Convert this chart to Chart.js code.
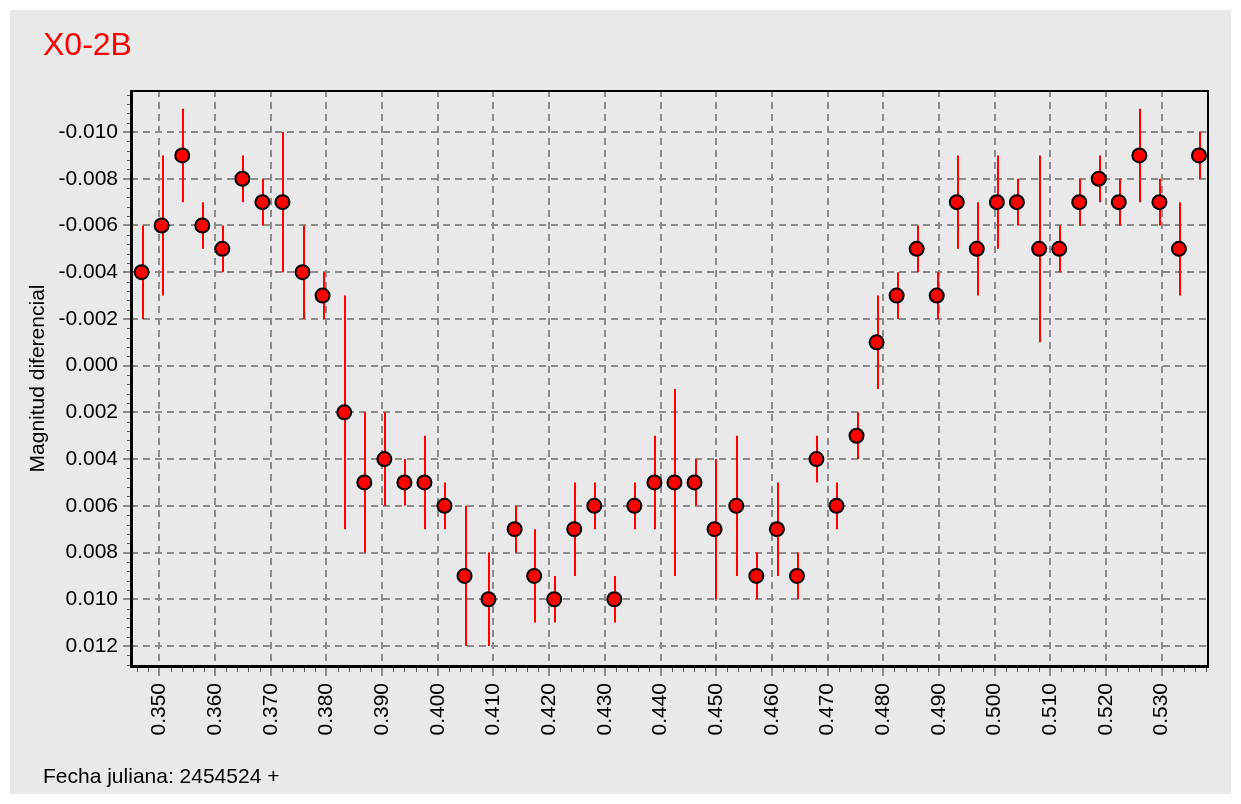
<!DOCTYPE html>
<html>
<head>
<meta charset="utf-8">
<script src="https://cdn.jsdelivr.net/npm/chart.js@4.4.1/dist/chart.umd.min.js"></script>
<style>
  html, body { margin: 0; padding: 0; background: #ffffff; }
  #wrap { position: relative; width: 1241px; height: 804px; overflow: hidden; }
  #c { position: absolute; left: 0; top: 0; }
  .txt { position: absolute; font-family: "Liberation Sans", Arial, sans-serif; white-space: nowrap; }
  #title { left: 43px; top: 28px; font-size: 32px; line-height: 32px; color: #ff0000; }
  #footer { left: 43px; top: 765px; font-size: 21px; line-height: 21px; color: #000; }
</style>
</head>
<body>
<div id="wrap">
  <canvas id="c" width="1241" height="804"></canvas>
  <div id="title" class="txt">X0-2B</div>
  <div id="footer" class="txt">Fecha juliana: 2454524 +</div>
</div>
<script>
// ---- data ----
const jdOffsets = [0.3468, 0.3504, 0.3541, 0.3577, 0.3613, 0.3649, 0.3685, 0.3721, 0.3757, 0.3793,
  0.3832, 0.3868, 0.3904, 0.3940, 0.3976, 0.4012, 0.4048, 0.4091, 0.4138, 0.4173,
  0.4209, 0.4245, 0.4281, 0.4317, 0.4353, 0.4389, 0.4425, 0.4461, 0.4497, 0.4536,
  0.4572, 0.4609, 0.4645, 0.4680, 0.4716, 0.4752, 0.4788, 0.4824, 0.4860, 0.4896,
  0.4932, 0.4968, 0.5004, 0.5040, 0.5080, 0.5116, 0.5152, 0.5187, 0.5223, 0.5260,
  0.5296, 0.5331, 0.5367];
const magnitudes = [-0.004, -0.006, -0.009, -0.006, -0.005, -0.008, -0.007, -0.007, -0.004, -0.003,
  0.002, 0.005, 0.004, 0.005, 0.005, 0.006, 0.009, 0.010, 0.007, 0.009,
  0.010, 0.007, 0.006, 0.010, 0.006, 0.005, 0.005, 0.005, 0.007, 0.006,
  0.009, 0.007, 0.009, 0.004, 0.006, 0.003, -0.001, -0.003, -0.005, -0.003,
  -0.007, -0.005, -0.007, -0.007, -0.005, -0.005, -0.007, -0.008, -0.007, -0.009,
  -0.007, -0.005, -0.009];
const errTop = [-0.006, -0.009, -0.011, -0.007, -0.006, -0.009, -0.008, -0.010, -0.006, -0.004,
  -0.003, 0.002, 0.002, 0.004, 0.003, 0.005, 0.006, 0.008, 0.006, 0.007,
  0.009, 0.005, 0.005, 0.009, 0.005, 0.003, 0.001, 0.004, 0.004, 0.003,
  0.008, 0.005, 0.008, 0.003, 0.005, 0.002, -0.003, -0.004, -0.006, -0.004,
  -0.009, -0.007, -0.009, -0.008, -0.009, -0.006, -0.008, -0.009, -0.008, -0.011,
  -0.008, -0.007, -0.010];
const errBottom = [-0.002, -0.003, -0.007, -0.005, -0.004, -0.007, -0.006, -0.004, -0.002, -0.002,
  0.007, 0.008, 0.006, 0.006, 0.007, 0.007, 0.012, 0.012, 0.008, 0.011,
  0.011, 0.009, 0.007, 0.011, 0.007, 0.007, 0.009, 0.006, 0.010, 0.009,
  0.010, 0.009, 0.010, 0.005, 0.007, 0.004, 0.001, -0.002, -0.004, -0.002,
  -0.005, -0.003, -0.005, -0.006, -0.001, -0.004, -0.006, -0.007, -0.006, -0.007,
  -0.006, -0.003, -0.008];
const xTickValues = [0.350, 0.360, 0.370, 0.380, 0.390, 0.400, 0.410, 0.420, 0.430, 0.440,
  0.450, 0.460, 0.470, 0.480, 0.490, 0.500, 0.510, 0.520, 0.530];
const yTickValues = [-0.010, -0.008, -0.006, -0.004, -0.002, 0.000, 0.002, 0.004, 0.006, 0.008, 0.010, 0.012];
const yAxisTitle = 'Magnitud diferencial';

const points = jdOffsets.map((x, i) => ({ x: x, y: magnitudes[i], lo: errTop[i], hi: errBottom[i] }));

const PANEL = '#e9e9e9';
const GRID = '#8c8c8c';

const panelPlugin = {
  id: 'panel',
  beforeDraw(chart) {
    const ctx = chart.ctx;
    ctx.save();
    ctx.fillStyle = '#ffffff';
    ctx.fillRect(0, 0, chart.width, chart.height);
    ctx.fillStyle = PANEL;
    ctx.fillRect(10, 10, 1221, 784);
    ctx.restore();
  }
};

const errorBarPlugin = {
  id: 'errorBars',
  beforeDatasetsDraw(chart) {
    const ctx = chart.ctx;
    const xs = chart.scales.x, ys = chart.scales.y;
    ctx.save();
    ctx.strokeStyle = '#ff0000';
    ctx.lineWidth = 2;
    points.forEach(p => {
      const px = Math.round(xs.getPixelForValue(p.x)) + 1;
      ctx.beginPath();
      ctx.moveTo(px, ys.getPixelForValue(p.lo));
      ctx.lineTo(px, ys.getPixelForValue(p.hi));
      ctx.stroke();
    });
    ctx.restore();
  }
};

const framePlugin = {
  id: 'frame',
  afterDraw(chart) {
    const ctx = chart.ctx;
    const a = chart.chartArea;
    const xs = chart.scales.x, ys = chart.scales.y;
    ctx.save();
    ctx.lineCap = 'butt';
    for (let k = -29; k <= 32; k++) {
      const v = k * 0.0004;
      if (v < ys.min || v > ys.max) continue;
      const py = Math.round(ys.getPixelForValue(v)) + 0.5;
      ctx.strokeStyle = '#555';
      ctx.lineWidth = 1;
      ctx.beginPath(); ctx.moveTo(a.left - 4, py); ctx.lineTo(a.left, py); ctx.stroke();
    }
    yTickValues.forEach(v => {
      const py = Math.round(ys.getPixelForValue(v));
      ctx.strokeStyle = GRID; ctx.lineWidth = 2;
      ctx.beginPath(); ctx.moveTo(a.left - 8, py); ctx.lineTo(a.left, py); ctx.stroke();
    });
    for (let k = 173; k <= 269; k++) {
      const v = k * 0.002;
      if (v < xs.min || v > xs.max) continue;
      const px = Math.round(xs.getPixelForValue(v)) + 0.5;
      ctx.strokeStyle = '#555'; ctx.lineWidth = 1;
      ctx.beginPath(); ctx.moveTo(px, a.bottom); ctx.lineTo(px, a.bottom + 5); ctx.stroke();
    }
    xTickValues.forEach(v => {
      const px = Math.round(xs.getPixelForValue(v));
      ctx.strokeStyle = GRID; ctx.lineWidth = 2;
      ctx.beginPath(); ctx.moveTo(px, a.bottom); ctx.lineTo(px, a.bottom + 9); ctx.stroke();
    });
    ctx.strokeStyle = '#000';
    ctx.lineWidth = 2;
    ctx.strokeRect(a.left, a.top + 1, a.right - a.left - 1, a.bottom - a.top - 1);
    ctx.lineWidth = 3;
    ctx.beginPath();
    ctx.moveTo(a.left + 0.5, a.top); ctx.lineTo(a.left + 0.5, a.bottom + 1);
    ctx.stroke();
    ctx.beginPath();
    ctx.moveTo(a.left, a.bottom - 0.5); ctx.lineTo(a.right, a.bottom - 0.5);
    ctx.stroke();
    ctx.restore();
  }
};

Chart.defaults.font.family = '"Liberation Sans", Arial, sans-serif';
Chart.defaults.color = '#000';

new Chart(document.getElementById('c'), {
  type: 'scatter',
  data: {
    datasets: [{
      data: points,
      pointStyle: 'circle',
      pointRadius: 7,
      pointHoverRadius: 7,
      backgroundColor: '#ff0000',
      borderColor: '#000000',
      borderWidth: 2,
      showLine: false
    }]
  },
  options: {
    responsive: false,
    animation: false,
    devicePixelRatio: 1,
    events: [],
    layout: { padding: { top: 90, right: 32, bottom: 0, left: 0 } },
    plugins: { legend: { display: false }, tooltip: { enabled: false }, title: { display: false } },
    scales: {
      x: {
        type: 'linear',
        min: 0.3449,
        max: 0.5385,
        afterBuildTicks(scale) { scale.ticks = xTickValues.map(v => ({ value: v })); },
        afterFit(scale) { scale.height = 137; },
        ticks: {
          font: { size: 21 },
          color: '#000',
          padding: 16,
          minRotation: 90,
          maxRotation: 90,
          autoSkip: false,
          callback: (v) => Number(v).toFixed(3)
        },
        grid: { color: GRID, lineWidth: 2, drawTicks: false },
        border: { display: false, dash: [7, 5] }
      },
      y: {
        type: 'linear',
        reverse: true,
        min: -0.0118,
        max: 0.0129,
        afterBuildTicks(scale) { scale.ticks = yTickValues.map(v => ({ value: v })); },
        afterFit(scale) { scale.width = 131; },
        ticks: {
          font: { size: 21 },
          color: '#000',
          padding: 13,
          autoSkip: false,
          callback: (v) => (Math.abs(v) < 1e-9 ? 0 : Number(v)).toFixed(3)
        },
        title: {
          display: true,
          text: yAxisTitle,
          color: '#000',
          font: { size: 21 },
          padding: { top: 26, bottom: 0 }
        },
        grid: { color: GRID, lineWidth: 2, drawTicks: false },
        border: { display: false, dash: [7, 5] }
      }
    }
  },
  plugins: [panelPlugin, errorBarPlugin, framePlugin]
});
</script>
</body>
</html>
